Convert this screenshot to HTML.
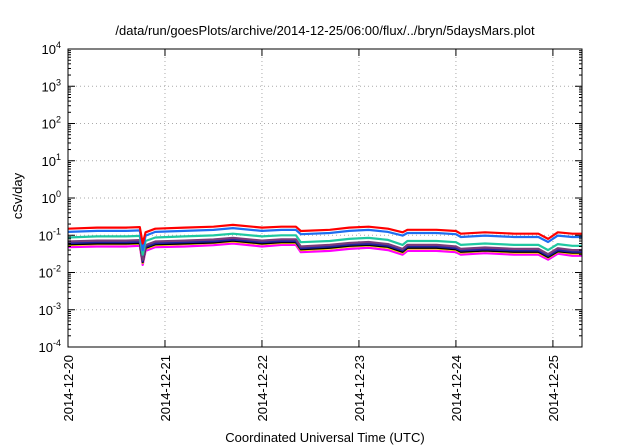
<!DOCTYPE html>
<html><head><meta charset="utf-8"><style>
body{margin:0;background:#fff;}
svg{display:block;font-family:"Liberation Sans",sans-serif;}
</style></head><body>
<svg id="chart" width="640" height="448">
<text x="325" y="35" font-size="13" text-anchor="middle">/data/run/goesPlots/archive/2014-12-25/06:00/flux/../bryn/5daysMars.plot</text>
<text transform="translate(22,196) rotate(-90)" font-size="13" text-anchor="middle">cSv/day</text>
<text x="325" y="442" font-size="13" text-anchor="middle">Coordinated Universal Time (UTC)</text>
<g id="grid"></g><g id="series"></g><g id="axes"></g>
<rect x="68" y="49" width="514" height="298" fill="none" stroke="#000" stroke-width="1"/>
</svg>
<script>
const yExponents=[-4,-3,-2,-1,0,1,2,3,4];
const xTickLabels=["2014-12-20","2014-12-21","2014-12-22","2014-12-23","2014-12-24","2014-12-25"];
const times=[0,0.3,0.6,0.74,0.77,0.8,0.9,1.2,1.5,1.7,2.0,2.2,2.35,2.4,2.7,2.9,3.1,3.3,3.45,3.5,3.8,4.0,4.05,4.3,4.6,4.85,4.95,5.05,5.2,5.3];
const red=[0.15,0.16,0.16,0.165,0.06,0.12,0.15,0.16,0.17,0.19,0.16,0.17,0.17,0.13,0.14,0.16,0.17,0.15,0.12,0.14,0.14,0.13,0.11,0.12,0.11,0.11,0.08,0.12,0.11,0.11];
const blue=[0.123,0.131,0.131,0.135,0.04,0.098,0.123,0.131,0.139,0.156,0.131,0.139,0.139,0.107,0.115,0.131,0.139,0.123,0.098,0.115,0.115,0.107,0.09,0.098,0.09,0.09,0.066,0.098,0.09,0.09];
const teal=[0.087,0.093,0.093,0.096,0.03,0.07,0.087,0.093,0.099,0.11,0.093,0.1,0.1,0.065,0.07,0.08,0.085,0.075,0.055,0.07,0.07,0.065,0.055,0.06,0.055,0.055,0.04,0.058,0.052,0.052];
const purple=[0.068,0.072,0.072,0.074,0.022,0.054,0.068,0.072,0.077,0.085,0.072,0.078,0.078,0.05,0.055,0.062,0.066,0.058,0.043,0.055,0.055,0.05,0.043,0.047,0.043,0.043,0.031,0.045,0.04,0.04];
const navy=[0.061,0.065,0.065,0.067,0.02,0.049,0.061,0.065,0.069,0.077,0.065,0.07,0.07,0.045,0.05,0.056,0.059,0.052,0.039,0.05,0.05,0.045,0.039,0.042,0.039,0.039,0.028,0.04,0.036,0.036];
const black=[0.057,0.06,0.06,0.062,0.019,0.046,0.057,0.06,0.064,0.072,0.06,0.065,0.065,0.042,0.046,0.052,0.055,0.049,0.036,0.046,0.046,0.042,0.036,0.039,0.036,0.036,0.026,0.037,0.034,0.034];
const yellow=[0.054,0.058,0.058,0.059,0.018,0.043,0.054,0.058,0.062,0.068,0.058,0.062,0.062,0.04,0.044,0.05,0.053,0.046,0.034,0.044,0.044,0.04,0.034,0.038,0.034,0.034,0.025,0.036,0.032,0.032];
const magenta=[0.048,0.05,0.05,0.052,0.016,0.038,0.048,0.05,0.054,0.06,0.05,0.055,0.055,0.035,0.038,0.043,0.046,0.04,0.03,0.038,0.038,0.035,0.03,0.033,0.03,0.03,0.022,0.032,0.028,0.028];

const NS="http://www.w3.org/2000/svg";
const L=68,R=582,T=49,B=347,XMAX=5.3;
function xs(d){return L+(d/XMAX)*(R-L);}
function ys(v){return B-(Math.log10(v)+4)/8*(B-T);}
function mk(tag,attrs,parent){const e=document.createElementNS(NS,tag);for(const k in attrs)e.setAttribute(k,attrs[k]);parent.appendChild(e);return e;}
const grid=document.getElementById('grid'),axes=document.getElementById('axes'),ser=document.getElementById('series');
yExponents.forEach(p=>{
  const y=ys(Math.pow(10,p));
  if(p>-4&&p<4){const g=mk('line',{x1:L,x2:R,y1:y,y2:y,stroke:'#aaa','stroke-dasharray':'1,3'},grid);
  
  }
  mk('line',{x1:L,x2:L+7,y1:y,y2:y,stroke:'#000'},axes);
  mk('line',{x1:R,x2:R-7,y1:y,y2:y,stroke:'#000'},axes);
  const t=mk('text',{x:61,y:y+5,'font-size':'13','text-anchor':'end'},axes);
  
  
  t.textContent='10';
  const s=mk('tspan',{dy:'-6','font-size':'9'},t);s.textContent=String(p);
  if(p<4){for(let m=2;m<10;m++){const ym=ys(m*Math.pow(10,p));
    mk('line',{x1:L,x2:L+3,y1:ym,y2:ym,stroke:'#000'},axes);
    mk('line',{x1:R,x2:R-3,y1:ym,y2:ym,stroke:'#000'},axes);}}
});
xTickLabels.forEach((lab,i)=>{
  const x=xs(i);
  if(i>0){const g=mk('line',{x1:x,x2:x,y1:T,y2:B,stroke:'#aaa','stroke-dasharray':'1,3'},grid);
  
  }
  mk('line',{x1:x,x2:x,y1:B,y2:B-7,stroke:'#000'},axes);
  mk('line',{x1:x,x2:x,y1:T,y2:T+7,stroke:'#000'},axes);
  const t=mk('text',{transform:`translate(${x+5},${B+8}) rotate(-90)`,'font-size':'13','text-anchor':'end'},axes);
  
  
  t.textContent=lab;
});
const list=[[magenta,'#ff00ff','series-magenta'],[yellow,'#ffd700','series-yellow'],[black,'#000000','series-black'],[navy,'#2020a0','series-navy'],[purple,'#7a3a7a','series-purple'],[teal,'#20c8a0','series-teal'],[blue,'#1e6ef0','series-blue'],[red,'#ff0000','series-red']];
list.forEach(([vals,col,name])=>{
  const d=vals.map((v,i)=>(i?'L':'M')+xs(times[i]).toFixed(1)+','+ys(v).toFixed(1)).join(' ');
  const p=mk('path',{d:d,fill:'none',stroke:col,'stroke-width':'2.2','stroke-linejoin':'round'},ser);
  
  
});
</script>
</body></html>
